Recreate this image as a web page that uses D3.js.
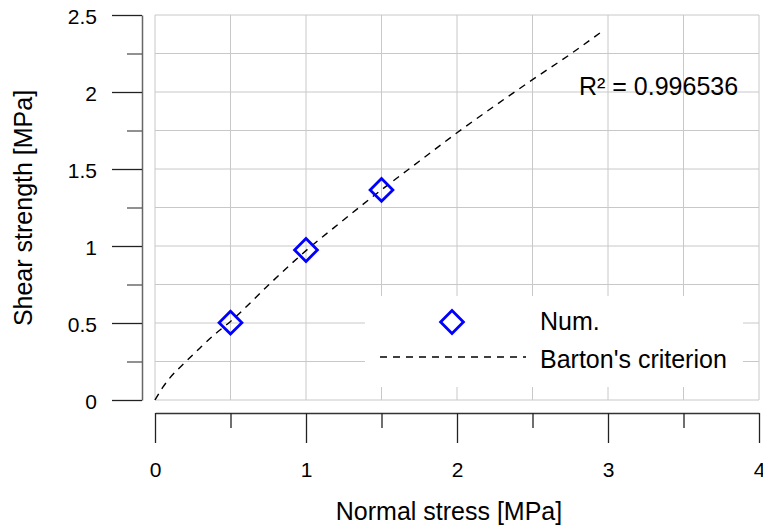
<!DOCTYPE html>
<html>
<head>
<meta charset="utf-8">
<script src="https://cdn.jsdelivr.net/npm/d3@7"></script>
<style>
  body { margin: 0; background: #fff; }
  svg { font-family: "Liberation Sans", Arial, sans-serif; }
  .grid line { stroke: #c8c8c8; stroke-width: 1; }
  .axis text { font-family: "Liberation Sans", Arial, sans-serif; font-size: 21px; fill: #000; }
</style>
</head>
<body>
<div id="chart-area"></div>
<script>
// data
const numStress = [0.5, 1.0, 1.5]
const numStrength = [0.502, 0.974, 1.364]

const bartonStress = [0, 0.05, 0.1, 0.2, 0.3, 0.4, 0.5, 0.75, 1.0, 1.25, 1.5, 1.75, 2.0, 2.25, 2.5, 2.75, 2.97]
const bartonStrength = [0, 0.08, 0.145, 0.245, 0.34, 0.43, 0.51, 0.745, 0.97, 1.17, 1.365, 1.55, 1.735, 1.91, 2.08, 2.245, 2.4]

const xTicks = [0, 1, 2, 3, 4]
const xMinor = [0.5, 1.5, 2.5, 3.5]
const yTicks = [0, 0.5, 1, 1.5, 2, 2.5]
const yMinor = [0.25, 0.75, 1.25, 1.75, 2.25]
const xGrid = [0, 0.5, 1, 1.5, 2, 2.5, 3, 3.5, 4]
const yGrid = [0, 0.25, 0.5, 0.75, 1, 1.25, 1.5, 1.75, 2, 2.25, 2.5]

const rSquared = "0.996536"

const W = 763, H = 526
const PLOT = {LEFT: 155, RIGHT: 759, TOP: 15, BOTTOM: 400}

const svg = d3.select("#chart-area").append("svg")
  .attr("width", W)
  .attr("height", H)

const x = d3.scaleLinear().domain([0, 4]).range([PLOT.LEFT, PLOT.RIGHT])
const y = d3.scaleLinear().domain([0, 2.5]).range([PLOT.BOTTOM, PLOT.TOP])

// Grid
const grid = svg.append("g").attr("class", "grid")
grid.selectAll(".vg").data(xGrid).enter().append("line")
  .attr("x1", d => x(d)).attr("x2", d => x(d))
  .attr("y1", PLOT.TOP).attr("y2", PLOT.BOTTOM)
grid.selectAll(".hg").data(yGrid).enter().append("line")
  .attr("x1", PLOT.LEFT).attr("x2", PLOT.RIGHT)
  .attr("y1", d => y(d)).attr("y2", d => y(d))

// Y axis (offset to the left of the plot)
const yAxisX = 142
const yAxis = svg.append("g")
  .attr("class", "axis")
  .attr("transform", `translate(${yAxisX}, 0)`)
  .call(d3.axisLeft(y).tickValues(yTicks).tickSize(30).tickSizeOuter(0).tickPadding(15)
    .tickFormat(d3.format("")))
yAxis.select(".domain").attr("stroke", "#666").attr("stroke-width", 1.5)
yAxis.selectAll(".tick line").attr("stroke", "#222").attr("stroke-width", 1.3)
yAxis.selectAll(".tick text").attr("dy", "0.4em")

const yAxisMinor = svg.append("g")
  .attr("transform", `translate(${yAxisX}, 0)`)
  .call(d3.axisLeft(y).tickValues(yMinor).tickSize(15).tickFormat(""))
yAxisMinor.select(".domain").remove()
yAxisMinor.selectAll(".tick line").attr("stroke", "#555").attr("stroke-width", 1.3)

// X axis (offset below the plot)
const xAxisY = 413
const xAxis = svg.append("g")
  .attr("class", "axis")
  .attr("transform", `translate(0, ${xAxisY})`)
  .call(d3.axisBottom(x).tickValues(xTicks).tickSize(30).tickSizeOuter(0).tickPadding(19)
    .tickFormat(d3.format("")))
xAxis.select(".domain").attr("stroke", "#333").attr("stroke-width", 1.3)
xAxis.selectAll(".tick line").attr("stroke", "#222").attr("stroke-width", 1.3)

const xAxisMinor = svg.append("g")
  .attr("transform", `translate(0, ${xAxisY})`)
  .call(d3.axisBottom(x).tickValues(xMinor).tickSize(15).tickFormat(""))
xAxisMinor.select(".domain").remove()
xAxisMinor.selectAll(".tick line").attr("stroke", "#222").attr("stroke-width", 1.3)

// Axis titles
svg.append("text")
  .attr("x", 449)
  .attr("y", 520)
  .attr("font-size", "25px")
  .attr("text-anchor", "middle")
  .text("Normal stress [MPa]")

svg.append("text")
  .attr("transform", "rotate(-90)")
  .attr("x", -208)
  .attr("y", 32)
  .attr("font-size", "25px")
  .attr("text-anchor", "middle")
  .text("Shear strength [MPa]")

// Barton's criterion curve
const curveData = bartonStress.map((s, i) => ({s: s, t: bartonStrength[i]}))
const line = d3.line()
  .x(d => x(d.s))
  .y(d => y(d.t))
  .curve(d3.curveMonotoneX)

svg.append("path")
  .datum(curveData)
  .attr("fill", "none")
  .attr("stroke", "#000")
  .attr("stroke-width", 1.4)
  .attr("stroke-dasharray", "7,6")
  .attr("d", line)

// Numerical points (diamonds)
const diamond = d3.symbol().type(d3.symbolSquare).size(260)
svg.selectAll(".num").data(numStress).enter().append("path")
  .attr("class", "num")
  .attr("d", diamond)
  .attr("transform", (d, i) => `translate(${x(d)}, ${y(numStrength[i])}) rotate(45)`)
  .attr("fill", "none")
  .attr("stroke", "#0000ff")
  .attr("stroke-width", 2.8)

// R^2 label
svg.append("text")
  .attr("x", 579)
  .attr("y", 95)
  .attr("font-size", "25px")
  .text(`R² = ${rSquared}`)

// Legend
const legend = svg.append("g")
legend.append("rect")
  .attr("x", 365).attr("y", 296)
  .attr("width", 378).attr("height", 91)
  .attr("fill", "#fff")

legend.append("path")
  .attr("d", diamond)
  .attr("transform", "translate(452, 322) rotate(45)")
  .attr("fill", "none")
  .attr("stroke", "#0000ff")
  .attr("stroke-width", 2.8)
legend.append("text")
  .attr("x", 540).attr("y", 330)
  .attr("font-size", "25px")
  .text("Num.")

legend.append("line")
  .attr("x1", 380).attr("x2", 526)
  .attr("y1", 357).attr("y2", 357)
  .attr("stroke", "#000")
  .attr("stroke-width", 1.4)
  .attr("stroke-dasharray", "7,6")
legend.append("text")
  .attr("x", 540).attr("y", 368)
  .attr("font-size", "25px")
  .text("Barton's criterion")
</script>
</body>
</html>
